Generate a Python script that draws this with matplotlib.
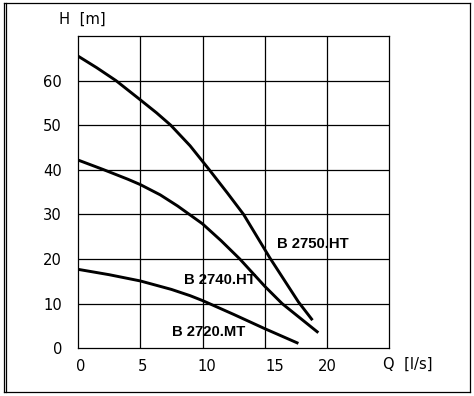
import matplotlib
matplotlib.use("Agg")
import matplotlib.pyplot as plt
from matplotlib.lines import Line2D
from matplotlib.transforms import ScaledTranslation

# ---- data ----
q_2750 = [0, 1.5, 3.05, 5, 6.3, 7.45, 9, 10.55, 12, 13.3, 15.4, 17.7, 18.83]
h_2750 = [65.5, 62.9, 60, 55.7, 52.8, 50, 45.4, 40, 34.8, 30, 20.3, 10.4, 6.3]

q_2740 = [0, 2, 4, 5, 6.6, 8, 9, 10, 11.5, 13, 15, 16.4, 19.3]
h_2740 = [42.2, 40.1, 37.9, 36.7, 34.4, 31.9, 29.9, 27.9, 24.1, 20, 13.9, 10, 3.5]

q_2720 = [0, 2.5, 5, 7.5, 9, 10, 12.5, 15, 17.7]
h_2720 = [17.7, 16.5, 15.1, 13.2, 11.8, 10.7, 7.6, 4.4, 1.1]

curve_names = ["B 2750.HT", "B 2740.HT", "B 2720.MT"]
label_pos = [(15.97, 23.3), (8.5, 15.3), (7.52, 3.65)]

x_ticks = [0, 5, 10, 15, 20]
x_tick_labels = ["0", "5", "10", "15", "20"]
y_ticks = [0, 10, 20, 30, 40, 50, 60]
y_tick_labels = ["0", "10", "20", "30", "40", "50", "60"]

W, H = 474, 396
fig = plt.figure(figsize=(W / 100, H / 100), dpi=100)
fig.patch.set_facecolor("white")

ax = fig.add_axes([78 / W, 1 - 348.3 / H, (389.3 - 78) / W, (348.3 - 36) / H])
ax.set_xlim(0, 25)
ax.set_ylim(0, 70)

# grid
for gx in [5, 10, 15, 20]:
    ax.axvline(gx, color="black", lw=0.9, zorder=1)
for gy in [10, 20, 30, 40, 50, 60]:
    ax.axhline(gy, color="black", lw=0.9, zorder=1)
for s in ax.spines.values():
    s.set_linewidth(0.9)
    s.set_color("black")

for q, h in [(q_2750, h_2750), (q_2740, h_2740), (q_2720, h_2720)]:
    ax.plot(q, h, color="black", lw=2.1, solid_capstyle="butt",
            solid_joinstyle="round", zorder=3)

for name, (lx, ly) in zip(curve_names, label_pos):
    ax.text(lx, ly, name, fontsize=10.7, fontweight="bold", family="Liberation Sans",
            ha="left", va="center", zorder=4)

tick_font = dict(family="DejaVu Sans", size=10.6)
ax.set_xticks(x_ticks)
ax.set_xticklabels(x_tick_labels, fontdict=tick_font)
ax.set_yticks(y_ticks)
ax.set_yticklabels(y_tick_labels, fontdict=tick_font)
ax.tick_params(axis="both", length=0)
ax.tick_params(axis="x", pad=8)
ax.tick_params(axis="y", pad=11.5)

# small per-label horizontal offsets as in the reference
x_offsets_px = [3, 2, 4, 10, 0]
for lbl, off in zip(ax.get_xticklabels(), x_offsets_px):
    lbl.set_transform(lbl.get_transform() + ScaledTranslation(off / 100, 0, fig.dpi_scale_trans))

fig.text(59.3 / W, 1 - 19 / H, "H  [m]", family="DejaVu Sans", fontsize=10.6,
         ha="left", va="center")
fig.text(383 / W, 1 - 364.3 / H, "Q  [l/s]", family="DejaVu Sans", fontsize=10.6,
         ha="left", va="center")

# outer frame (double line on left)
def fline(x0, y0, x1, y1):
    fig.add_artist(Line2D([x0 / W, x1 / W], [1 - y0 / H, 1 - y1 / H],
                          transform=fig.transFigure, color="black", lw=0.9))

fline(3.5, 2.7, 3.5, 391.7)
fline(5.5, 2.7, 5.5, 391.7)
fline(3.5, 2.7, 469.7, 2.7)
fline(469.7, 2.7, 469.7, 391.7)
fline(3.5, 391.7, 469.7, 391.7)

fig.savefig("out.png", dpi=100, facecolor="white")
